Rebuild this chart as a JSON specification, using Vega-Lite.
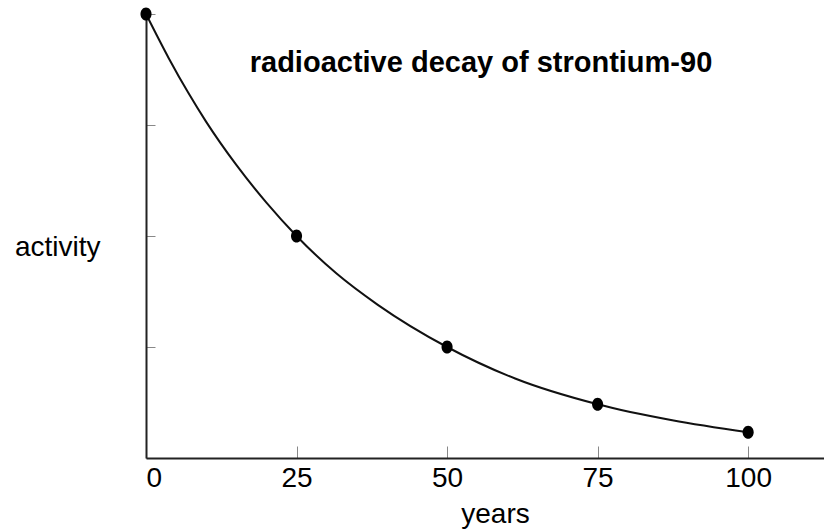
{
  "$schema": "https://vega.github.io/schema/vega-lite/v6.json",
  "width": 678,
  "height": 444,
  "autosize": "none",
  "padding": {"left": 146, "top": 14, "right": 0, "bottom": 72},
  "background": "white",
  "config": {"view": {"stroke": null}, "font": "Liberation Sans"},
  "title": {
    "text": "radioactive decay of strontium-90",
    "font": "Liberation Sans",
    "fontSize": 29,
    "fontWeight": "bold",
    "color": "black",
    "anchor": "middle",
    "frame": "group",
    "offset": 0,
    "baseline": "alphabetic",
    "dx": -4,
    "dy": 94
  },
  "datasets": {
    "dots": [
      {"years": 0, "activity": 1},
      {"years": 25, "activity": 0.5},
      {"years": 50, "activity": 0.25},
      {"years": 75, "activity": 0.121},
      {"years": 100, "activity": 0.058}
    ],
    "curve": [
      {"years": 0, "activity": 1},
      {"years": 3.8, "activity": 0.9},
      {"years": 7, "activity": 0.823},
      {"years": 10, "activity": 0.757},
      {"years": 15, "activity": 0.66},
      {"years": 20, "activity": 0.575},
      {"years": 25, "activity": 0.5},
      {"years": 31.6, "activity": 0.416},
      {"years": 38.5, "activity": 0.345},
      {"years": 50, "activity": 0.25},
      {"years": 61.3, "activity": 0.179},
      {"years": 75, "activity": 0.121},
      {"years": 87.4, "activity": 0.085},
      {"years": 100, "activity": 0.058}
    ]
  },
  "encoding": {
    "x": {
      "field": "years",
      "type": "quantitative",
      "scale": {"domain": [0, 112.6], "nice": false},
      "axis": {
        "values": [0, 25, 50, 75, 100],
        "grid": false,
        "domainColor": "#222222",
        "domainWidth": 2,
        "tickSize": -12,
        "tickColor": "#888888",
        "tickWidth": 1,
        "labelFont": "Liberation Sans",
        "labelFontSize": 28,
        "labelColor": "black",
        "labelPadding": 18,
        "title": "years",
        "titleFont": "Liberation Sans",
        "titleFontSize": 28,
        "titleFontWeight": "normal",
        "titleColor": "black",
        "titleX": 349,
        "titleY": 64,
        "titleBaseline": "alphabetic",
        "titleAlign": "center"
      }
    },
    "y": {
      "field": "activity",
      "type": "quantitative",
      "scale": {"domain": [0, 1], "nice": false},
      "axis": {
        "values": [0.25, 0.5, 0.75, 1],
        "grid": false,
        "labels": false,
        "domainColor": "#222222",
        "domainWidth": 2,
        "tickSize": -9,
        "tickColor": "#888888",
        "tickWidth": 1,
        "title": "activity",
        "titleFont": "Liberation Sans",
        "titleFontSize": 28,
        "titleFontWeight": "normal",
        "titleColor": "black",
        "titleAngle": 0,
        "titleAlign": "right",
        "titleBaseline": "alphabetic",
        "titleX": -46,
        "titleY": 241
      }
    }
  },
  "layer": [
    {
      "data": {"name": "curve"},
      "mark": {"type": "line", "interpolate": "monotone", "color": "#111111", "strokeWidth": 2}
    },
    {
      "data": {"name": "dots"},
      "mark": {
        "type": "point",
        "filled": true,
        "opacity": 1,
        "color": "black",
        "size": 170,
        "shape": "M-0.85,0A0.85,1,0,1,1,0.85,0A0.85,1,0,1,1,-0.85,0Z"
      }
    }
  ]
}
